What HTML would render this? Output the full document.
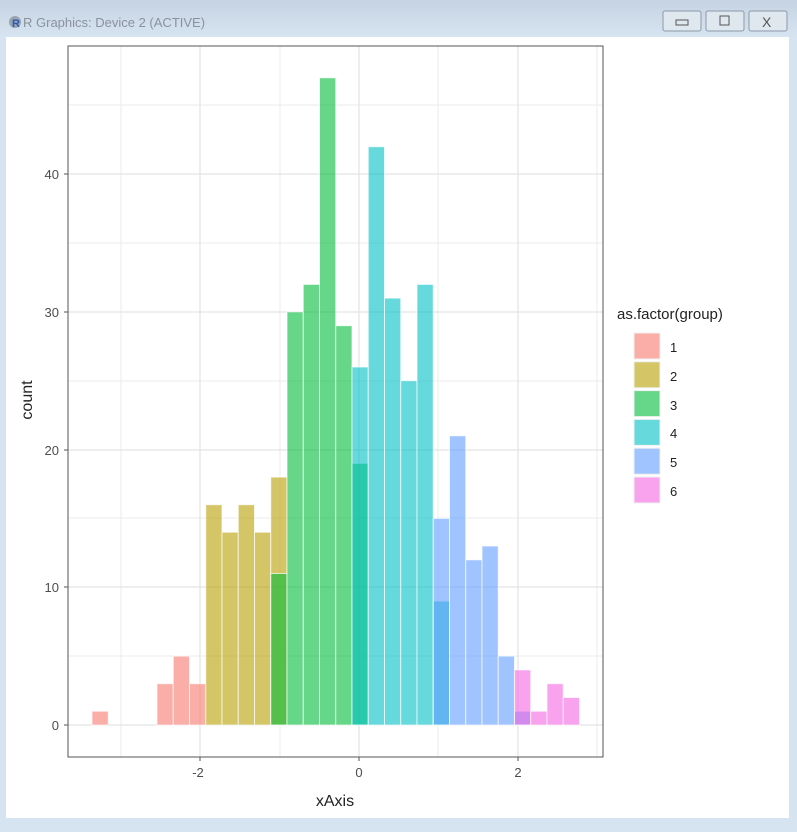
<!DOCTYPE html>
<html><head><style>
body{margin:0;width:797px;height:827px;overflow:hidden;background:#d6e3f0;font-family:"Liberation Sans",sans-serif}
</style></head><body>
<svg width="797" height="827" xmlns="http://www.w3.org/2000/svg" font-family="Liberation Sans, sans-serif">
<defs><linearGradient id="tb" x1="0" y1="0" x2="0" y2="1"><stop offset="0" stop-color="#c6d3e2"/><stop offset="1" stop-color="#d6e3f0"/></linearGradient></defs>
<rect x="0" y="0" width="797" height="827" fill="#d6e3f0"/>
<rect x="0" y="0" width="797" height="36" fill="url(#tb)"/>
<circle cx="15" cy="22" r="6" fill="#9aa4b0"/><text x="12" y="27" font-size="11" font-weight="bold" fill="#2a5db0">R</text>
<text x="23" y="27" font-size="13" fill="#8a939c">R Graphics: Device 2 (ACTIVE)</text>
<rect x="663" y="11" width="38" height="20" rx="2" fill="#dfe7ef" stroke="#8c9aab"/>
<rect x="706" y="11" width="38" height="20" rx="2" fill="#dfe7ef" stroke="#8c9aab"/>
<rect x="749" y="11" width="38" height="20" rx="2" fill="#dfe7ef" stroke="#8c9aab"/>
<rect x="676" y="20" width="12" height="5" fill="none" stroke="#555"/>
<rect x="720" y="16" width="9" height="9" fill="none" stroke="#555"/>
<text x="762" y="27" font-size="14" fill="#555">X</text>
<rect x="6" y="37" width="783" height="781" fill="#fff"/>
<g stroke="#ebebeb" stroke-width="1">
<line x1="68" x2="603" y1="656" y2="656"/><line x1="68" x2="603" y1="518" y2="518"/><line x1="68" x2="603" y1="381" y2="381"/><line x1="68" x2="603" y1="243" y2="243"/><line x1="68" x2="603" y1="105" y2="105"/>
<line y1="46" y2="757" x1="121" x2="121"/><line y1="46" y2="757" x1="280" x2="280"/><line y1="46" y2="757" x1="438" x2="438"/><line y1="46" y2="757" x1="597" x2="597"/>
</g>
<g stroke="#e3e3e3" stroke-width="1.2">
<line x1="68" x2="603" y1="725" y2="725"/><line x1="68" x2="603" y1="587" y2="587"/><line x1="68" x2="603" y1="450" y2="450"/><line x1="68" x2="603" y1="312" y2="312"/><line x1="68" x2="603" y1="174" y2="174"/>
<line y1="46" y2="757" x1="200" x2="200"/><line y1="46" y2="757" x1="359" x2="359"/><line y1="46" y2="757" x1="518" x2="518"/>
</g>
<g stroke="#ffffff" stroke-opacity="0.7" stroke-width="1" fill-opacity="0.6">
<g fill="#F8766D">
<rect x="92" y="711.2" width="16.25" height="13.8"/>
<rect x="157" y="683.7" width="16.25" height="41.3"/>
<rect x="173.25" y="656.15" width="16.25" height="68.85"/>
<rect x="189.5" y="683.7" width="16.25" height="41.3"/>
</g>
<g fill="#B79F00">
<rect x="205.75" y="504.7" width="16.25" height="220.3"/>
<rect x="222" y="532.2" width="16.25" height="192.8"/>
<rect x="238.25" y="504.7" width="16.25" height="220.3"/>
<rect x="254.5" y="532.2" width="16.25" height="192.8"/>
<rect x="270.75" y="477.1" width="16.25" height="247.9"/>
</g>
<g fill="#00BA38">
<rect x="270.75" y="573.5" width="16.25" height="151.5"/>
<rect x="287" y="311.9" width="16.25" height="413.1"/>
<rect x="303.25" y="284.4" width="16.25" height="440.6"/>
<rect x="319.5" y="77.8" width="16.25" height="647.2"/>
<rect x="335.75" y="325.7" width="16.25" height="399.3"/>
<rect x="352" y="463.4" width="16.25" height="261.6"/>
</g>
<g fill="#00BFC4">
<rect x="352" y="367" width="16.25" height="358"/>
<rect x="368.25" y="146.7" width="16.25" height="578.3"/>
<rect x="384.5" y="298.1" width="16.25" height="426.9"/>
<rect x="400.75" y="380.7" width="16.25" height="344.3"/>
<rect x="417" y="284.4" width="16.25" height="440.6"/>
<rect x="433.25" y="601.1" width="16.25" height="123.9"/>
</g>
<g fill="#619CFF">
<rect x="433.25" y="518.4" width="16.25" height="206.6"/>
<rect x="449.5" y="435.8" width="16.25" height="289.2"/>
<rect x="465.75" y="559.8" width="16.25" height="165.2"/>
<rect x="482" y="546" width="16.25" height="179"/>
<rect x="498.25" y="656.1" width="16.25" height="68.9"/>
<rect x="514.5" y="711.2" width="16.25" height="13.8"/>
</g>
<g fill="#F564E3">
<rect x="514.5" y="669.9" width="16.25" height="55.1"/>
<rect x="530.75" y="711.2" width="16.25" height="13.8"/>
<rect x="547" y="683.7" width="16.25" height="41.3"/>
<rect x="563.25" y="697.5" width="16.25" height="27.5"/>
</g>
</g>
<rect x="68" y="46" width="535" height="711" fill="none" stroke="#555" stroke-width="1"/>
<g stroke="#555"><line x1="64" x2="68" y1="725" y2="725"/><line x1="64" x2="68" y1="587" y2="587"/><line x1="64" x2="68" y1="450" y2="450"/><line x1="64" x2="68" y1="312" y2="312"/><line x1="64" x2="68" y1="174" y2="174"/>
<line y1="757" y2="761" x1="200" x2="200"/><line y1="757" y2="761" x1="359" x2="359"/><line y1="757" y2="761" x1="518" x2="518"/></g>
<g font-size="13" fill="#4d4d4d" text-anchor="end"><text x="59" y="730">0</text><text x="59" y="592">10</text><text x="59" y="455">20</text><text x="59" y="317">30</text><text x="59" y="179">40</text></g>
<g font-size="13" fill="#4d4d4d" text-anchor="middle"><text x="198" y="777">-2</text><text x="359" y="777">0</text><text x="518" y="777">2</text></g>
<text x="335" y="806" font-size="16" fill="#222" text-anchor="middle">xAxis</text>
<text transform="translate(32,400) rotate(-90)" font-size="16" fill="#222" text-anchor="middle">count</text>
<text x="617" y="319" font-size="15" fill="#222">as.factor(group)</text>
<g fill-opacity="0.6" stroke="#f0f0f0">
<rect x="634" y="333" width="26" height="26" fill="#F8766D"/>
<rect x="634" y="361.8" width="26" height="26" fill="#B79F00"/>
<rect x="634" y="390.6" width="26" height="26" fill="#00BA38"/>
<rect x="634" y="419.4" width="26" height="26" fill="#00BFC4"/>
<rect x="634" y="448.2" width="26" height="26" fill="#619CFF"/>
<rect x="634" y="477" width="26" height="26" fill="#F564E3"/>
</g>
<g font-size="13" fill="#222">
<text x="670" y="352">1</text><text x="670" y="381">2</text><text x="670" y="410">3</text><text x="670" y="438">4</text><text x="670" y="467">5</text><text x="670" y="496">6</text>
</g>
</svg>
</body></html>
